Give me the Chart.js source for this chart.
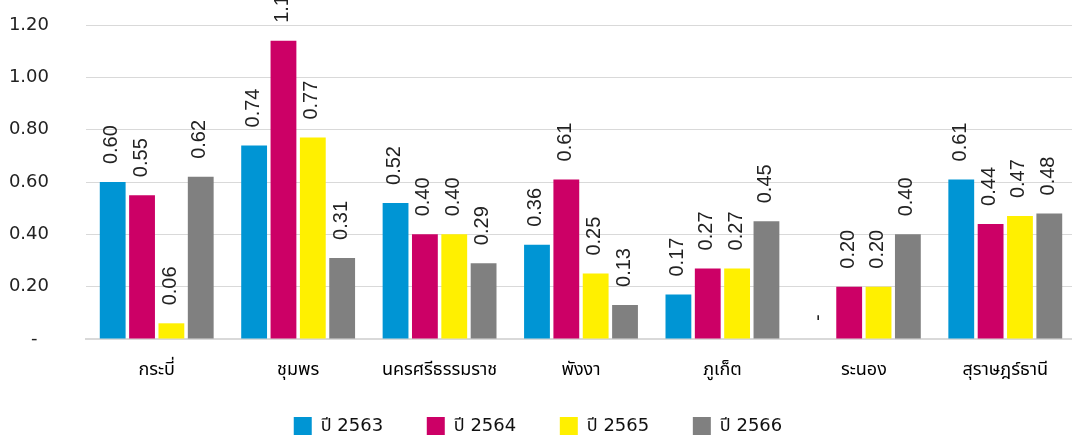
<!DOCTYPE html>
<html lang="th">
  <head>
    <meta charset="UTF-8" />
    <title>Bar chart</title>
    <script src="https://cdn.jsdelivr.net/npm/chart.js"></script>
    <style>
      body {
        margin: 0;
        overflow: hidden;
        background: #fff;
      }
      .wrap {
        width: 1076px;
        height: 445px;
      }
    </style>
  </head>
  <body>
    <div class="wrap"><canvas id="chart"></canvas></div>

    <script>
      const provinces = ["กระบี่", "ชุมพร", "นครศรีธรรมราช", "พังงา", "ภูเก็ต", "ระนอง", "สุราษฎร์ธานี"];
      const seriesNames = ["ปี 2563", "ปี 2564", "ปี 2565", "ปี 2566"];
      const y2563 = [0.60, 0.74, 0.52, 0.36, 0.17, 0, 0.61];
      const y2564 = [0.55, 1.14, 0.40, 0.61, 0.27, 0.20, 0.44];
      const y2565 = [0.06, 0.77, 0.40, 0.25, 0.27, 0.20, 0.47];
      const y2566 = [0.62, 0.31, 0.29, 0.13, 0.45, 0.40, 0.48];
      const yTicks = [0, 0.2, 0.4, 0.6, 0.8, 1.0, 1.2];

      const colors = ["#0095d4", "#cc0066", "#fff000", "#808080"];
      const thaiFont = "Tahoma, 'Noto Sans Thai', 'Noto Sans', sans-serif";

      // value labels, rotated, above each bar
      const barLabels = {
        id: "barLabels",
        afterDatasetsDraw(chart) {
          const ctx = chart.ctx;
          ctx.save();
          ctx.font = "20px 'Liberation Sans', Arial, sans-serif";
          ctx.fillStyle = "#222";
          ctx.textAlign = "left";
          ctx.textBaseline = "middle";
          chart.data.datasets.forEach((ds, i) => {
            chart.getDatasetMeta(i).data.forEach((bar, j) => {
              const v = ds.data[j];
              const txt = v === 0 ? "-" : v.toFixed(2);
              ctx.save();
              ctx.translate(bar.x - 1, bar.y - 18);
              ctx.rotate(-Math.PI / 2);
              ctx.fillText(txt, 0, 0);
              ctx.restore();
            });
          });
          ctx.restore();
        },
      };

      const series = [y2563, y2564, y2565, y2566];

      new Chart(document.getElementById("chart"), {
        type: "bar",
        data: {
          labels: provinces,
          datasets: series.map((d, i) => ({
            label: seriesNames[i],
            data: d,
            backgroundColor: colors[i],
            categoryPercentage: 0.83,
            barPercentage: 0.88,
          })),
        },
        options: {
          responsive: true,
          maintainAspectRatio: false,
          animation: false,
          layout: { padding: 0 },
          plugins: {
            tooltip: { enabled: false },
            legend: {
              position: "bottom",
              labels: {
                boxWidth: 18,
                boxHeight: 18,
                padding: 15,
                color: "#111",
                font: { family: "'DejaVu Sans', 'Noto Sans Thai', sans-serif", size: 18 },
                generateLabels(chart) {
                  const items = Chart.defaults.plugins.legend.labels.generateLabels(chart);
                  // extra gap after each entry
                  items.forEach((it, i) => {
                    if (i < items.length - 1) it.text += "     ";
                  });
                  return items;
                },
              },
            },
          },
          scales: {
            x: {
              grid: { display: false },
              border: { color: "#d9d9d9", width: 2 },
              ticks: {
                color: "#000",
                padding: 14,
                font: { family: thaiFont, size: 18 },
              },
              afterFit(scale) {
                scale.height = 63;
              },
            },
            y: {
              min: 0,
              max: 1.296,
              afterBuildTicks(scale) {
                scale.ticks = yTicks.map((v) => ({ value: v }));
              },
              grid: { color: "#d9d9d9", drawTicks: false },
              border: { display: false },
              ticks: {
                color: "#222",
                padding: 37,
                font: { family: "'DejaVu Sans', sans-serif", size: 18 },
                callback: (v) => (v === 0 ? "-  " : v.toFixed(2)),
              },
              afterFit(scale) {
                scale.width = 86;
                scale.paddingTop = 0;
              },
            },
          },
        },
        plugins: [barLabels],
      });
    </script>
  </body>
</html>
